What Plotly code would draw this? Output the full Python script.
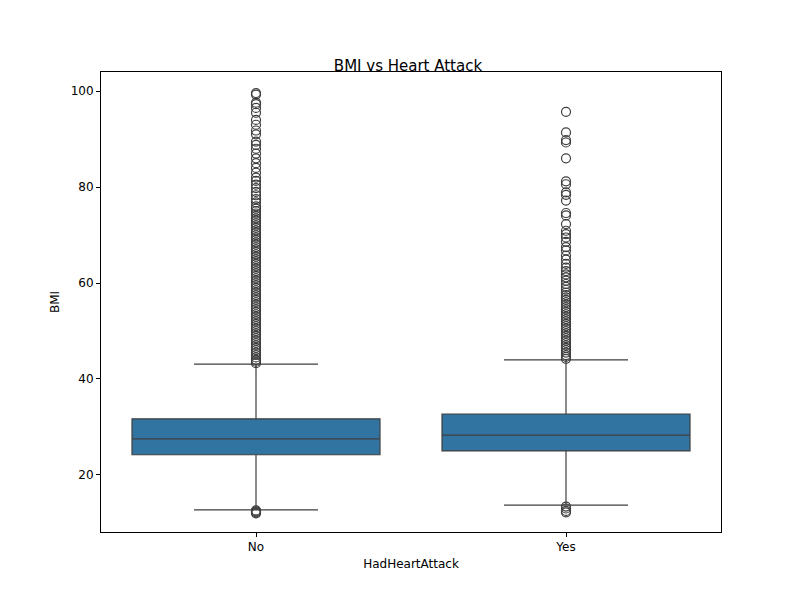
import plotly.graph_objects as go

categories = ["No", "Yes"]
q1 = [24.2, 25.0]
median = [27.5, 28.3]
q3 = [31.7, 32.7]
lower_fence = [12.7, 13.7]
upper_fence = [43.1, 44.0]

# outliers (dense bands listed at a coarse step)
outliers_no = [12.0, 12.2, 12.4, 12.6,
               43.3, 43.6, 44.0, 44.5, 45.0, 45.5, 46.0, 46.5, 47.0, 47.5, 48.0, 48.5,
               49.0, 49.5, 50.0, 50.5, 51.0, 51.5, 52.0, 52.5, 53.0, 53.5, 54.0, 54.5,
               55.0, 55.5, 56.0, 56.5, 57.0, 57.5, 58.0, 58.5, 59.0, 59.5, 60.0, 60.5,
               61.0, 61.5, 62.0, 62.5, 63.0, 63.5, 64.0, 64.5, 65.0, 65.5, 66.0, 66.5,
               67.0, 67.5, 68.0, 68.5, 69.0, 69.5, 70.0, 70.5, 71.0, 71.5, 72.0, 72.5,
               73.0, 73.5, 74.0, 74.5, 75.0, 75.5, 76.0, 76.8, 77.5, 78.3, 79.0, 79.8,
               80.5, 81.3, 82.0, 83.0, 84.0, 85.0, 86.0, 87.0, 88.0, 88.8, 89.5, 91.0,
               91.8, 93.0, 94.0, 95.5, 96.5, 97.3, 97.6, 99.3, 99.6]
outliers_yes = [12.2, 12.5, 13.0, 13.4,
                44.2, 44.6, 45.0, 45.5, 46.0, 46.5, 47.0, 47.5, 48.0, 48.5, 49.0, 49.5,
                50.0, 50.5, 51.0, 51.5, 52.0, 52.5, 53.0, 53.5, 54.0, 54.5, 55.0, 55.5,
                56.0, 56.5, 57.0, 57.5, 58.0, 58.6, 59.2, 59.8, 60.5, 61.2, 61.8, 62.5,
                63.2, 64.0, 64.9, 65.7, 66.8, 67.5, 68.6, 69.5, 70.2, 70.9, 72.3, 74.1,
                74.6, 77.2, 78.4, 78.9, 80.6, 81.2, 86.0, 89.3, 89.8, 91.4, 95.7]

box_fill = "#3274a1"
edge = "#3f3f3f"

fig = go.Figure()
fig.add_trace(go.Box(
    x=categories, q1=q1, median=median, q3=q3,
    lowerfence=lower_fence, upperfence=upper_fence,
    width=0.8, fillcolor=box_fill, line=dict(color=edge, width=1.2),
    whiskerwidth=0.5, boxpoints=False, showlegend=False, hoverinfo="skip",
))
for cat, vals in zip(categories, [outliers_no, outliers_yes]):
    fig.add_trace(go.Scatter(
        x=[cat] * len(vals), y=vals, mode="markers", showlegend=False,
        marker=dict(symbol="circle-open", size=9, color=edge, line=dict(width=1.2)),
    ))

axis_common = dict(showline=True, mirror=True, linecolor="black", linewidth=1,
                   ticks="outside", ticklen=4, tickcolor="black", showgrid=False,
                   zeroline=False, tickfont=dict(size=12))
fig.update_layout(
    width=800, height=600,
    paper_bgcolor="white", plot_bgcolor="white",
    font=dict(family="DejaVu Sans", size=12, color="black"),
    title=dict(text="BMI vs Heart Attack", x=0.5, xanchor="center", y=0.903, yanchor="middle",
               yref="container", font=dict(size=15)),
    margin=dict(l=93, r=87, t=64, b=76),
    xaxis=dict(title=dict(text="HadHeartAttack", standoff=6, font=dict(size=12)),
               range=[-0.5, 1.5], **axis_common),
    yaxis=dict(title=dict(text="BMI", standoff=8, font=dict(size=12)), range=[8.1, 104],
               tickvals=[20, 40, 60, 80, 100], **axis_common),
)

fig.write_html("out.html")
